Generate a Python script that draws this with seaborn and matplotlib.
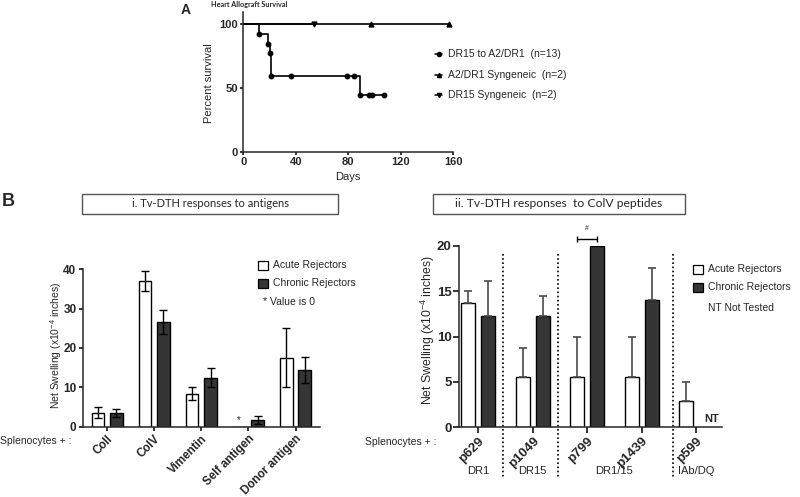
import numpy as np
import pandas as pd
import matplotlib
matplotlib.use('Agg')
import matplotlib.pyplot as plt
import matplotlib.transforms as mtransforms
from matplotlib.patches import Rectangle
from matplotlib.lines import Line2D
import seaborn as sns

# --- Panel A : survival ---
dr15_days = [0, 12, 19, 20, 21, 89, 107]
dr15_surv = [100, 92.3, 84.6, 76.9, 59.3, 44.5, 44.5]
dr15_mark_days = [12, 19, 20, 21, 36, 79, 84, 89, 96, 98, 107]
dr15_mark_surv = [92.3, 84.6, 76.9, 59.3, 59.3, 59.3, 59.3, 44.5, 44.5, 44.5, 44.5]
a2_days = [0, 157]
a2_surv = [100, 100]
a2_mark_days = [97, 157]
dr15syn_days = [0, 54]
dr15syn_surv = [100, 100]
dr15syn_mark_days = [54]
legend_a = ['DR15 to A2/DR1  (n=13)', 'A2/DR1 Syngeneic  (n=2)', 'DR15 Syngeneic  (n=2)']

# --- Panel B i : antigens ---
ant_labels = ['ColI', 'ColV', 'Vimentin', 'Self antigen', 'Donor antigen']
acute_ant = [3.6, 37.0, 8.4, 0.0, 17.5]
acute_ant_err = [1.5, 2.6, 1.7, 0.0, 7.5]
chronic_ant = [3.4, 26.6, 12.5, 1.8, 14.3]
chronic_ant_err = [1.05, 3.1, 2.5, 1.0, 3.3]

# --- Panel B ii : ColV peptides ---
pep_labels = ['p629', 'p1049', 'p799', 'p1439', 'p599']
pep_groups = ['DR1', 'DR15', 'DR1/15', 'IAb/DQ']
acute_pep = [13.75, 5.5, 5.5, 5.5, 2.95]
acute_pep_err = [1.25, 3.3, 4.5, 4.5, 2.0]
chronic_pep = [12.25, 12.3, 20.0, 14.0, np.nan]
chronic_pep_err = [3.85, 2.15, 0.0, 3.6, np.nan]

groups = ['Acute Rejectors', 'Chronic Rejectors']
colors = {'Acute Rejectors': 'white', 'Chronic Rejectors': '#353535'}

sns.set_style('ticks')
plt.rcParams['font.family'] = ['Liberation Sans', 'DejaVu Sans']
plt.rcParams['mathtext.fontset'] = 'custom'
plt.rcParams['mathtext.rm'] = 'Liberation Sans'
plt.rcParams['axes.linewidth'] = 1.1

W, H = 800, 497
fig = plt.figure(figsize=(8, 4.97), dpi=100)
# pixel coordinates, origin top-left
pxT = mtransforms.Affine2D().scale(1 / W, -1 / H).translate(0, 1) + fig.transFigure


def px_axes(l, t, r, b):
    return fig.add_axes([l / W, 1 - b / H, (r - l) / W, (b - t) / H])


def style_ticks(ax, size, length):
    ax.tick_params(axis='both', labelsize=size, length=length, width=1.1, pad=1.5, color='black')
    for lab in ax.get_yticklabels():
        lab.set_fontweight('bold')


def rotated_xticks(ax, labels, size):
    ax.tick_params(axis='x', pad=1.5)
    ax.set_xticks(range(len(labels)), labels, rotation=45, ha='right', va='top',
                  rotation_mode='anchor', fontweight='bold', fontsize=size)


# ================= Panel A =================
axA = px_axes(243.3, 11.7, 453.3, 151.7)
sns.lineplot(x=dr15_days, y=dr15_surv, drawstyle='steps-post', color='black', lw=1.2, ax=axA)
sns.lineplot(x=a2_days, y=a2_surv, color='black', lw=1.2, ax=axA)
sns.lineplot(x=dr15syn_days, y=dr15syn_surv, color='black', lw=1.2, ax=axA)
axA.plot(dr15_mark_days, dr15_mark_surv, 'o', ms=3.2, color='black', clip_on=False)
axA.plot(a2_mark_days, [100] * len(a2_mark_days), '^', ms=3.5, color='black', clip_on=False)
axA.plot(dr15syn_mark_days, [100] * len(dr15syn_mark_days), 'v', ms=3.5, color='black', clip_on=False)
axA.set_xlim(0, 160)
axA.set_ylim(0, 109.5)
axA.set_xticks([0, 40, 80, 120, 160])
axA.set_yticks([0, 50, 100])
axA.set_xlabel('')
axA.set_ylabel('')
sns.despine(ax=axA)
style_ticks(axA, 8, 2.5)
for lab in axA.get_xticklabels():
    lab.set_fontweight('bold')
fig.text(209, 83, 'Percent survival', transform=pxT, rotation=90, ha='center', va='center', fontsize=8)
fig.text(348, 177, 'Days', transform=pxT, ha='center', va='center', fontsize=8)
fig.text(186, 10, 'A', transform=pxT, ha='center', va='center', fontsize=10, fontweight='bold')
fig.text(249, 4, 'Heart Allograft Survival', transform=pxT, ha='center', va='center',
         fontsize=5.2, fontweight='bold', family=['Lato', 'DejaVu Sans'])
for y, lab, m in zip([54, 75, 95], legend_a, ['o', '^', 'v']):
    fig.add_artist(Line2D([435, 438.5, 442], [y, y, y], transform=pxT, color='black', lw=1.1,
                          marker=m, ms=3, markevery=[1]))
    fig.text(448, y, lab, transform=pxT, ha='left', va='center', fontsize=7.5)

# ================= Panel B i =================
df_ant = pd.DataFrame({
    'antigen': ant_labels * 2,
    'group': [groups[0]] * 5 + [groups[1]] * 5,
    'value': acute_ant + chronic_ant,
})
axL = px_axes(82.7, 269.3, 320, 426.7)
wL = 0.784
sns.barplot(data=df_ant, x='antigen', y='value', hue='group', hue_order=groups, order=ant_labels,
            palette=colors, edgecolor='black', linewidth=1.0, width=wL, gap=0.32,
            errorbar=None, legend=False, ax=axL)
xs = np.arange(len(ant_labels))
for off, vals, errs in [(-wL / 4, acute_ant, acute_ant_err), (wL / 4, chronic_ant, chronic_ant_err)]:
    keep = [i for i in range(len(vals)) if errs[i] > 0]
    axL.errorbar(xs[keep] + off, np.array(vals)[keep], yerr=np.array(errs)[keep], fmt='none',
                 ecolor='black', elinewidth=1.0, capsize=3, capthick=1.0)
axL.text(3 - wL / 4, 1.8, '*', ha='center', va='center', fontsize=7)
axL.set_xlim(-0.52, 4.52)
axL.set_ylim(0, 40)
axL.set_yticks([0, 10, 20, 30, 40])
axL.set_xlabel('')
axL.set_ylabel('')
sns.despine(ax=axL)
style_ticks(axL, 8.5, 3)
rotated_xticks(axL, ant_labels, 8.4)
fig.text(56, 345, r'Net Swelling (x10$^{-4}$ inches)', transform=pxT, rotation=90,
         ha='center', va='center', fontsize=7.5)
fig.text(0, 441, 'Splenocytes + :', transform=pxT, ha='left', va='center', fontsize=7.5)
fig.text(8, 201, 'B', transform=pxT, ha='center', va='center', fontsize=13, fontweight='bold')

# legend left
for y, g in zip([265.5, 283.5], groups):
    fig.add_artist(Rectangle((258.3, y - 4.5), 10, 9, transform=pxT, facecolor=colors[g],
                             edgecolor='black', lw=0.9))
    fig.text(273, y, g, transform=pxT, ha='left', va='center', fontsize=7.5)
fig.text(263, 302, '* Value is 0', transform=pxT, ha='left', va='center', fontsize=7.5)

# title boxes
for (l, t, r, b), title, fs in [((81.7, 194, 338.3, 213.5), 'i. Tv-DTH responses to antigens', 8),
                                ((433, 194, 685, 213.5), 'ii. Tv-DTH responses  to ColV peptides', 8.7)]:
    fig.add_artist(Rectangle((l, b), r - l, t - b, transform=pxT, facecolor='white',
                             edgecolor='#555555', lw=1.0))
    fig.text((l + r) / 2, (t + b) / 2, title, transform=pxT, ha='center', va='center',
             fontsize=fs, family=['Lato', 'DejaVu Sans'])

# ================= Panel B ii =================
df_pep = pd.DataFrame({
    'peptide': pep_labels * 2,
    'group': [groups[0]] * 5 + [groups[1]] * 5,
    'value': acute_pep + chronic_pep,
})
axR = px_axes(459.3, 246, 721.7, 427.3)
wR = 0.736
sns.barplot(data=df_pep, x='peptide', y='value', hue='group', hue_order=groups, order=pep_labels,
            palette=colors, edgecolor='black', linewidth=1.0, width=wR, gap=0.30,
            errorbar=None, legend=False, ax=axR)
xs = np.arange(len(pep_labels))
for off, vals, errs in [(-wR / 4, acute_pep, acute_pep_err), (wR / 4, chronic_pep, chronic_pep_err)]:
    keep = [i for i in range(len(vals)) if np.isfinite(errs[i]) and errs[i] > 0]
    e = np.array(errs)[keep]
    axR.errorbar(xs[keep] + off, np.array(vals)[keep], yerr=[np.zeros_like(e), e], fmt='none',
                 ecolor='#4a4a4a', elinewidth=1.2, capsize=3, capthick=1.2)
axR.set_xlim(-0.35, 4.47)
axR.set_ylim(0, 20)
axR.set_yticks([0, 5, 10, 15, 20])
axR.set_xlabel('')
axR.set_ylabel('')
sns.despine(ax=axR)
style_ticks(axR, 9.5, 4)
rotated_xticks(axR, pep_labels, 9.5)

# significance bracket
axR.errorbar([2], [20.8], xerr=[wR / 4], fmt='none', ecolor='black', elinewidth=1.0,
             capsize=2.5, capthick=1.0, clip_on=False)
axR.text(2, 21.5, '#', ha='center', va='bottom', fontsize=5)
axR.text(4 + wR / 4 + 0.1, 0.4, 'NT', ha='center', va='bottom', fontsize=8, fontweight='bold')

# dotted separators and HLA group labels
bt = mtransforms.blended_transform_factory(axR.transData, pxT)
for xv in [0.45, 1.46, 3.57]:
    axR.add_line(Line2D([xv, xv], [254, 477], transform=bt, color='black', lw=1.2,
                        linestyle=(0, (1, 1.5)), clip_on=False))
for xv, g in zip([0, 1, 2.5, 4], pep_groups):
    axR.text(xv, 471, g, transform=bt, ha='center', va='center', fontsize=8)

fig.text(428, 330, r'Net Swelling (x10$^{-4}$ inches)', transform=pxT, rotation=90,
         ha='center', va='center', fontsize=8.8)
fig.text(401, 442, 'Splenocytes + :', transform=pxT, ha='center', va='center', fontsize=7.5)

# legend right
for y, g in zip([269, 287], groups):
    fig.add_artist(Rectangle((693, y - 4.5), 10, 9, transform=pxT, facecolor=colors[g],
                             edgecolor='black', lw=0.9))
    fig.text(708, y, g, transform=pxT, ha='left', va='center', fontsize=7.5)
fig.text(708, 308, 'NT Not Tested', transform=pxT, ha='left', va='center', fontsize=7.5)

fig.savefig('out.png', dpi=100, facecolor='white')
